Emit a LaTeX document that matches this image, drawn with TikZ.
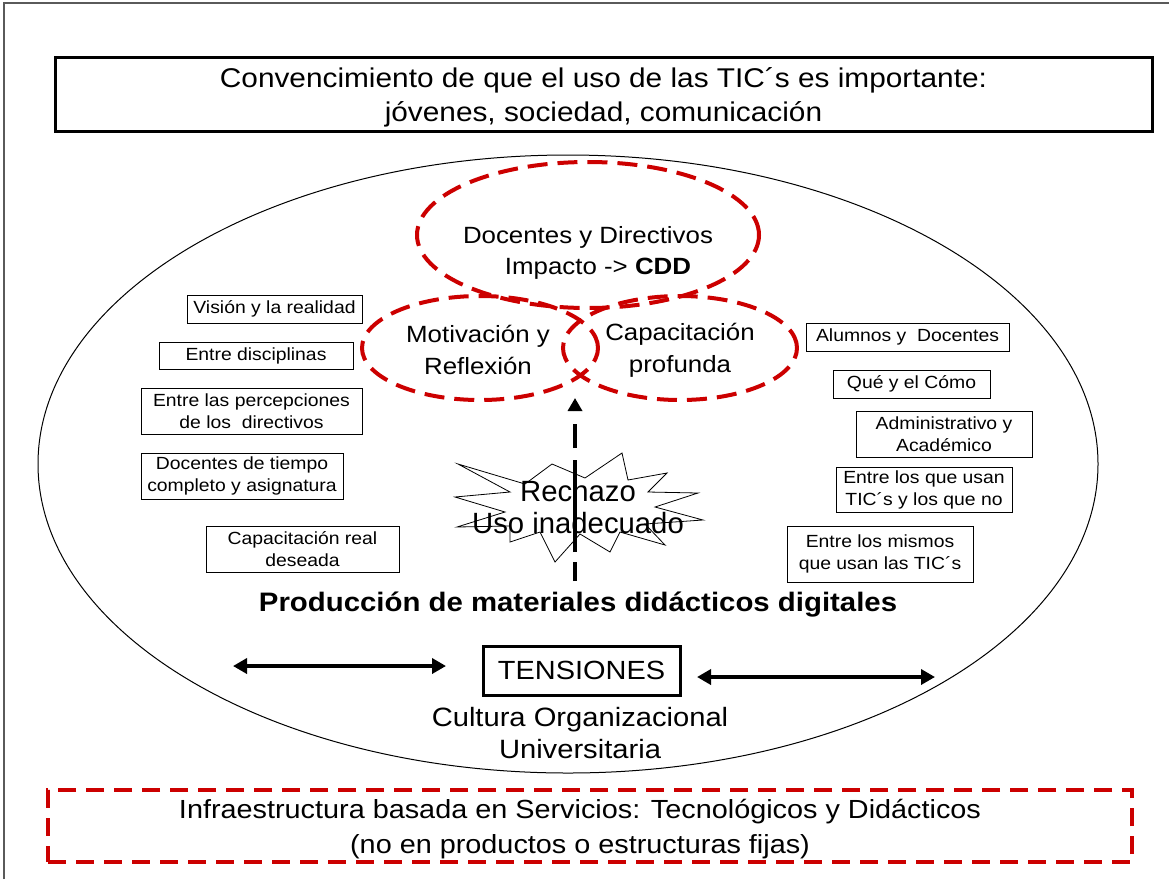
\documentclass[tikz,border=0pt]{standalone}
\usepackage{fontspec}
\setmainfont[FakeStretch=1.1]{Liberation Sans}
\newfontfamily\plainfont{Liberation Sans}
\usetikzlibrary{arrows.meta,shapes.geometric}
\definecolor{redd}{RGB}{204,0,0}
\definecolor{frame}{RGB}{90,90,90}
\begin{document}
\begin{tikzpicture}[x=1pt,y=-1pt,
  bigtxt/.style={font=\fontsize{26.5}{32}\selectfont, align=center},
  smallbox/.style={draw, line width=1pt, inner sep=0pt, align=center, font=\fontsize{17.6}{22}\selectfont},
  redell/.style={ellipse, draw=redd, line width=4pt, dash pattern=on 20pt off 10pt, inner sep=0pt},
  dblarrow/.style={{Triangle[width=15pt,length=14pt]}-{Triangle[width=15pt,length=14pt]}, line width=3.5pt}
]
\useasboundingbox (0,0) rectangle (1169,879);
% frame
\coordinate (f1) at (4,879);
\coordinate (f2) at (4,3);
\coordinate (f3) at (1169,3);
\draw[frame, line width=1.5pt] (f1) -- (f2) -- (f3);

% top box
\node[draw, line width=3pt, minimum width=1097pt, minimum height=74pt, inner sep=0pt] (top) at (603.5,94) {};
\node[align=center, font=\fontsize{27.1}{34}\selectfont] (toptxt) at (603.5,97)
  {Convencimiento de que el uso de las TIC´s es importante:\\jóvenes, sociedad, comunicación};

% outer ellipse
\node[ellipse, draw, line width=1pt, minimum width=1060pt, minimum height=618pt, inner sep=0pt] (outer) at (568,464) {};

% red ellipses
\node[redell, minimum width=342pt, minimum height=146pt] (doc) at (588,235) {};
\node[redell, minimum width=236pt, minimum height=104pt] (mot) at (480,348) {};
\node[redell, minimum width=234pt, minimum height=104pt] (cap) at (680,348) {};
\node[font=\fontsize{23.5}{31}\selectfont, align=center] (doctxt) at (588,253)
  {Docentes y Directivos\\\hspace*{20pt}Impacto -> \textbf{CDD}};
\node[font=\fontsize{23.5}{32}\selectfont, align=center] (mottxt) at (478,350) {Motivación y\\Reflexión};
\node[font=\fontsize{23.5}{32}\selectfont, align=center] (captxt) at (680,350) {Capacitación\\profunda};

% left boxes
\node[smallbox, minimum width=175pt, minimum height=28pt] (b1) at (274.5,309) {Visión y la realidad};
\node[smallbox, minimum width=194pt, minimum height=27pt] (b2) at (256,355.5) {Entre disciplinas};
\node[smallbox, minimum width=221pt, minimum height=46pt] (b3) at (251.5,411) {Entre las percepciones\\de los~~directivos};
\node[smallbox, minimum width=202pt, minimum height=46pt] (b4) at (242,476) {Docentes de tiempo\\completo y asignatura};
\node[smallbox, minimum width=193pt, minimum height=46pt] (b5) at (302.5,549) {Capacitación real\\deseada};

% right boxes
\node[smallbox, minimum width=203pt, minimum height=28pt] (c1) at (907.5,337) {Alumnos y~~Docentes};
\node[smallbox, minimum width=157pt, minimum height=28pt] (c2) at (911.5,384) {Qué y el Cómo};
\node[smallbox, minimum width=176pt, minimum height=46pt] (c3) at (944,434) {Administrativo y\\Académico};
\node[smallbox, minimum width=176pt, minimum height=45pt] (c4) at (924,489.5) {Entre los que usan\\TIC´s y los que no};
\node[smallbox, minimum width=186pt, minimum height=56pt] (c5) at (880,554) {Entre los mismos\\que usan las TIC´s};

% starburst
\draw[line width=0.8pt, fill=white] (458,464) -- (525,484) -- (552,464) -- (585,478) -- (622,453) -- (628,480)
  -- (667,473) -- (648,492) -- (698,493) -- (655,507) -- (703,520) -- (645,524) -- (665,545) -- (620,532)
  -- (610,552) -- (580,534) -- (555,562) -- (540,532) -- (510,542) -- (510,526) -- (457,527) -- (505,512)
  -- (455,497) -- (510,492) -- cycle;
\node[font=\plainfont\fontsize{29.3}{32}\selectfont, align=center] (rech) at (578,507) {Rechazo\\Uso inadecuado};

% vertical dashed arrow
\coordinate (abot) at (575,581);
\coordinate (atop) at (575,398);
\draw[line width=4pt, dash pattern=on 19pt off 10pt on 92pt off 12pt on 24pt off 13pt, -{Triangle[width=14pt,length=13pt]}] (abot) -- (atop);

% production
\node[font=\bfseries\fontsize{26.7}{30}\selectfont] (prod) at (578,605) {Producción de materiales didácticos digitales};

% tensiones
\node[draw, line width=3pt, minimum width=197pt, minimum height=49pt, inner sep=0pt, font=\fontsize{26.3}{30}\selectfont] (tens) at (581.5,670.5) {TENSIONES};
\node[bigtxt] (cult) at (580,733) {Cultura Organizacional\\Universitaria};
\coordinate (l1) at (233,666);
\coordinate (l2) at (446,666);
\coordinate (r1) at (697,677);
\coordinate (r2) at (935,677);
\draw[dblarrow] (l1) -- (l2);
\draw[dblarrow] (r1) -- (r2);

% bottom red box
\node[draw=redd, line width=4pt, dash pattern=on 18pt off 10pt, minimum width=1084pt, minimum height=72pt, inner sep=0pt] (infra) at (590,826) {};
\node[align=center, font=\fontsize{26.2}{35}\selectfont] (infratxt) at (580,829)
  {Infraestructura basada en Servicios: Tecnológicos y Didácticos\\(no en productos o estructuras fijas)};
\end{tikzpicture}
\end{document}
